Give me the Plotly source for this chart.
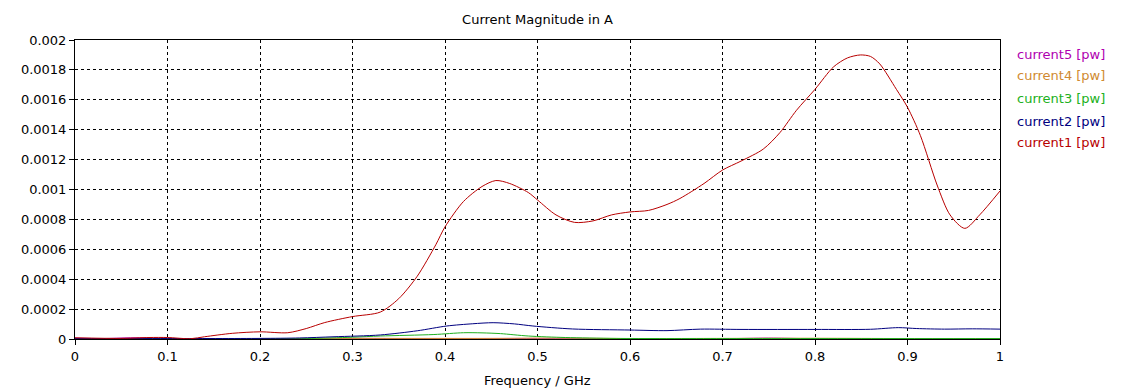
import plotly.graph_objects as go

# ---- data ----
f_red = [0, 0.05, 0.08, 0.1, 0.125, 0.14, 0.17, 0.2, 0.23, 0.25, 0.27, 0.3, 0.33, 0.35, 0.37, 0.39,
         0.4, 0.42, 0.44, 0.455, 0.47, 0.49, 0.5, 0.52, 0.54, 0.56, 0.58, 0.6, 0.62, 0.64, 0.654,
         0.68, 0.7, 0.72, 0.744, 0.762, 0.78, 0.8, 0.82, 0.835, 0.849, 0.86, 0.87, 0.888, 0.9,
         0.914, 0.932, 0.946, 0.962, 0.978, 1.0]
current1 = [0.000008, 0.000004, 0.00001, 0.00001, 0.000002, 0.000015, 0.000038, 0.000048, 0.000042,
            0.00007, 0.00011, 0.00015, 0.00018, 0.00027, 0.00042, 0.00063,
            0.00075, 0.00092, 0.00102, 0.00106, 0.00104, 0.00098, 0.00093, 0.00083, 0.00078,
            0.00079, 0.00083, 0.00085, 0.00086, 0.00090, 0.00094,
            0.00104, 0.00113, 0.00119, 0.00127, 0.00138, 0.00153, 0.00167, 0.00182, 0.00188,
            0.00190, 0.00189, 0.00184, 0.00167, 0.00155,
            0.00136, 0.00103, 0.00083, 0.00074, 0.00083, 0.00099]

f_blue = [0, 0.1, 0.2, 0.243, 0.28, 0.33, 0.37, 0.402, 0.43, 0.452, 0.475, 0.495, 0.538, 0.6,
          0.64, 0.676, 0.72, 0.8, 0.86, 0.89, 0.91, 0.94, 0.97, 1.0]
current2 = [0.000003, 0.000003, 0.000004, 0.000007, 0.000015, 0.000027, 0.000055, 0.000087,
            0.000102, 0.000109, 0.000101, 0.000087, 0.000067, 0.00006,
            0.000056, 0.000066, 0.000064, 0.000064, 0.000065, 0.000076, 0.00007, 0.000066,
            0.000068, 0.000066]

f_green = [0, 0.2, 0.25, 0.3, 0.33, 0.388, 0.42, 0.44, 0.46, 0.49, 0.53, 0.585, 0.7, 0.85, 1.0]
current3 = [0.0, 0.0, 0.000003, 0.000012, 0.00002, 0.00003, 0.000042, 0.000041, 0.000036,
            0.00002, 0.00001, 0.000004, 0.000003, 0.000003, 0.000003]

f_orange = [0, 0.2, 0.3, 0.45, 0.5, 0.55, 0.6, 0.7, 0.8, 0.9, 1.0]
current4 = [0.000002, 0.000002, 0.000004, 0.000004, 0.000006, 0.000005, 0.000003, 0.000004,
            0.000005, 0.000003, 0.000003]

f_mag = [0, 0.03, 0.06, 0.09, 0.12, 0.2, 0.3, 0.4, 0.5, 0.7, 0.75, 0.8, 1.0]
current5 = [0.000006, 0.000003, 0.000008, 0.000006, 0.000002, 0.000001, 0.000004, 0.000002,
            0.000002, 0.000002, 0.000006, 0.000002, 0.000002]

series = [
    ("current5 [pw]", f_mag, current5, "#b000b0"),
    ("current4 [pw]", f_orange, current4, "#d08a30"),
    ("current3 [pw]", f_green, current3, "#20b020"),
    ("current2 [pw]", f_blue, current2, "#000080"),
    ("current1 [pw]", f_red, current1, "#b80000"),
]

x_ticks = [0, 0.1, 0.2, 0.3, 0.4, 0.5, 0.6, 0.7, 0.8, 0.9, 1]
x_labels = ["0", "0.1", "0.2", "0.3", "0.4", "0.5", "0.6", "0.7", "0.8", "0.9", "1"]
y_ticks = [0, 0.0002, 0.0004, 0.0006, 0.0008, 0.001, 0.0012, 0.0014, 0.0016, 0.0018, 0.002]
y_labels = ["0", "0.0002", "0.0004", "0.0006", "0.0008", "0.001", "0.0012", "0.0014",
            "0.0016", "0.0018", "0.002"]
x_title = "Frequency / GHz"
chart_title = "Current Magnitude in A"

FONT = "DejaVu Sans"
FS = 13

# page body has an 8px margin; figure placed so the plot lands where the reference has it
W, H = 1126, 384
L, T, PW, PH = 67, 32, 925, 299

fig = go.Figure()
for name, fx, fy, col in series:
    fig.add_trace(go.Scatter(x=fx, y=fy, mode="lines", name=name,
                             line=dict(color=col, width=1, shape="spline", smoothing=0.8)))

legend_y = [0.953, 0.880, 0.806, 0.729, 0.656]
annotations = []
for (name, _, _, col), yy in zip(series, legend_y):
    annotations.append(dict(x=1.0162, y=yy, xref="paper", yref="paper", text=name,
                            showarrow=False, xanchor="left", yanchor="middle",
                            font=dict(family=FONT, size=FS, color=col)))
annotations.append(dict(x=0.5, y=-41 / PH, xref="paper", yref="paper", text=x_title,
                        showarrow=False, xanchor="center", yanchor="middle",
                        font=dict(family=FONT, size=FS, color="black")))

fig.update_layout(
    width=W, height=H,
    margin=dict(l=L, r=W - L - PW, t=T, b=H - T - PH),
    paper_bgcolor="white", plot_bgcolor="white",
    showlegend=False,
    title=dict(text=chart_title, x=(L + PW / 2) / W, xanchor="center",
               y=1 - 11 / H, yanchor="middle",
               font=dict(family=FONT, size=FS, color="black")),
    font=dict(family=FONT, size=FS, color="black"),
    annotations=annotations,
)
fig.update_xaxes(
    range=[0, 1], tickvals=x_ticks, ticktext=x_labels, automargin=False,
    showline=True, linecolor="black", linewidth=1, mirror=True,
    ticks="outside", ticklen=5, tickcolor="black",
    showgrid=True, gridcolor="black", gridwidth=1, griddash="3px,3px",
    zeroline=False,
    tickfont=dict(family=FONT, size=FS),
)
fig.update_yaxes(
    range=[0, 0.002], tickvals=y_ticks, ticktext=y_labels, automargin=False,
    showline=True, linecolor="black", linewidth=1, mirror=True,
    ticks="outside", ticklen=5, tickcolor="black",
    showgrid=True, gridcolor="black", gridwidth=1, griddash="3px,3px",
    zeroline=False,
    tickfont=dict(family=FONT, size=FS),
)

fig.write_html("out.html")
